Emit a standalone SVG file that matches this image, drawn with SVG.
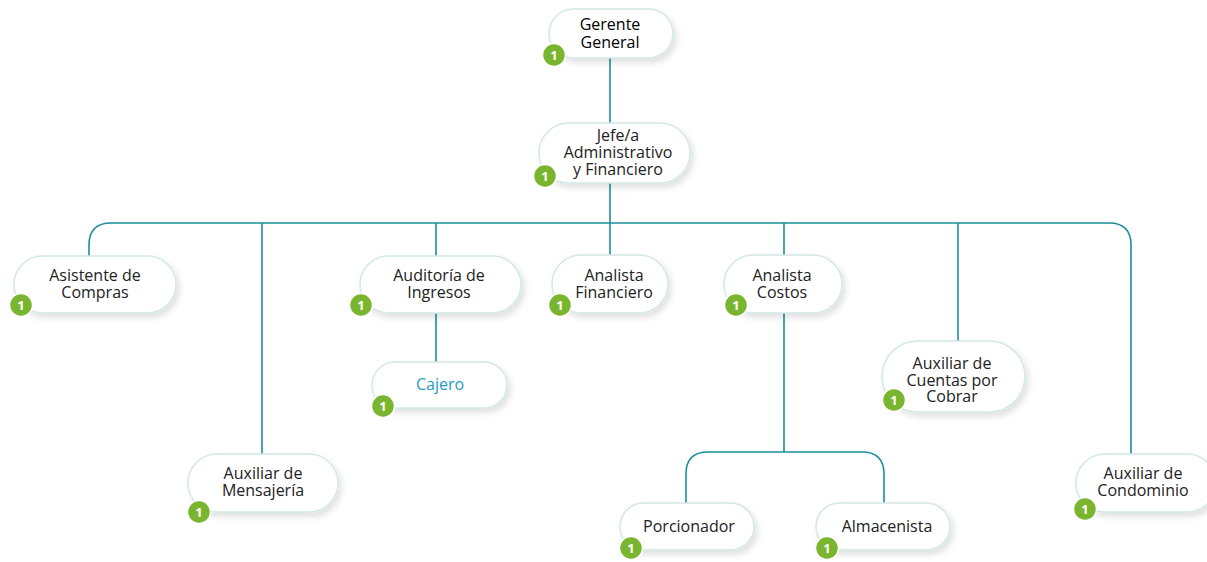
<svg xmlns="http://www.w3.org/2000/svg" width="1207" height="562" viewBox="0 0 1207 562">
<defs>
<filter id="sh" x="-20%" y="-30%" width="150%" height="170%">
<feDropShadow dx="3" dy="4" stdDeviation="3" flood-color="#000" flood-opacity="0.12"/>
</filter>
<style>
.box{fill:#fff;stroke:#d2e9e4;stroke-width:1.5;filter:url(#sh)}
.t{font-family:"Open Sans","Liberation Sans",sans-serif;font-size:16px;fill:#222;text-anchor:middle}
.c{stroke:#1b8f9c;stroke-width:1.6;fill:none}
.b{fill:#7ab52f;stroke:#fff;stroke-width:1.5}
.bt{font-family:"Open Sans","Liberation Sans",sans-serif;font-size:13px;font-weight:bold;fill:#fff;text-anchor:middle}
</style>
</defs>
<rect width="1207" height="562" fill="#fff"/>
<g id="connectors">
<path class="c" d="M610 58V123"/>
<path class="c" d="M610 183V223"/>
<path class="c" d="M89 256V245Q89 223 111 223H1109Q1131 223 1131 245V455"/>
<path class="c" d="M262 223V455"/>
<path class="c" d="M436 223V256"/>
<path class="c" d="M610 223V256"/>
<path class="c" d="M784 223V256"/>
<path class="c" d="M958 223V343"/>
<path class="c" d="M436 313V362"/>
<path class="c" d="M784 313V452"/>
<path class="c" d="M686 503V474Q686 452 708 452H862Q884 452 884 474V503"/>
</g>
<g id="n-gerente">
<rect class="box" x="549" y="9" width="124" height="49" rx="24.5"/>
<text class="t" style="font-weight:500;fill:#000"><tspan x="610" y="30">Gerente</tspan><tspan x="610" y="48">General</tspan></text>
<circle class="b" cx="554" cy="55" r="11.5"/><text class="bt" x="554" y="59.5">1</text>
</g>
<g id="n-jefe">
<rect class="box" x="539" y="123" width="151" height="60" rx="30"/>
<text class="t"><tspan x="618" y="141">Jefe/a</tspan><tspan x="618" y="158">Administrativo</tspan><tspan x="618" y="175">y Financiero</tspan></text>
<circle class="b" cx="545" cy="176" r="11.5"/><text class="bt" x="545" y="180.5">1</text>
</g>
<g id="n-asistente">
<rect class="box" x="14" y="256" width="162" height="57" rx="28.5"/>
<text class="t"><tspan x="95" y="281">Asistente de</tspan><tspan x="95" y="298">Compras</tspan></text>
<circle class="b" cx="21" cy="305" r="11.5"/><text class="bt" x="21" y="309.5">1</text>
</g>
<g id="n-mensajeria">
<rect class="box" x="188" y="454" width="150" height="58" rx="29"/>
<text class="t"><tspan x="263" y="479">Auxiliar de</tspan><tspan x="263" y="496">Mensajería</tspan></text>
<circle class="b" cx="199" cy="512" r="11.5"/><text class="bt" x="199" y="516.5">1</text>
</g>
<g id="n-auditoria">
<rect class="box" x="360" y="256" width="161" height="57" rx="28.5"/>
<text class="t"><tspan x="439" y="281">Auditoría de</tspan><tspan x="439" y="298">Ingresos</tspan></text>
<circle class="b" cx="361" cy="305" r="11.5"/><text class="bt" x="361" y="309.5">1</text>
</g>
<g id="n-cajero">
<rect class="box" x="372" y="362" width="135" height="46" rx="23"/>
<text class="t" x="440" y="390" style="fill:#1e9cc4">Cajero</text>
<circle class="b" cx="383" cy="406" r="11.5"/><text class="bt" x="383" y="410.5">1</text>
</g>
<g id="n-financiero">
<rect class="box" x="552" y="255" width="116" height="58" rx="29"/>
<text class="t"><tspan x="614" y="281">Analista</tspan><tspan x="614" y="298">Financiero</tspan></text>
<circle class="b" cx="560" cy="305" r="11.5"/><text class="bt" x="560" y="309.5">1</text>
</g>
<g id="n-costos">
<rect class="box" x="724" y="255" width="118" height="58" rx="29"/>
<text class="t"><tspan x="782" y="281">Analista</tspan><tspan x="782" y="298">Costos</tspan></text>
<circle class="b" cx="736" cy="305" r="11.5"/><text class="bt" x="736" y="309.5">1</text>
</g>
<g id="n-porcionador">
<rect class="box" x="620" y="503" width="134" height="47" rx="23.5"/>
<text class="t" x="689" y="532">Porcionador</text>
<circle class="b" cx="631" cy="548" r="11.5"/><text class="bt" x="631" y="552.5">1</text>
</g>
<g id="n-almacenista">
<rect class="box" x="816" y="503" width="134" height="47" rx="23.5"/>
<text class="t" x="887" y="532">Almacenista</text>
<circle class="b" cx="827" cy="548" r="11.5"/><text class="bt" x="827" y="552.5">1</text>
</g>
<g id="n-cuentas">
<rect class="box" x="882" y="341" width="143" height="71" rx="35.5"/>
<text class="t"><tspan x="952" y="369">Auxiliar de</tspan><tspan x="952" y="386">Cuentas por</tspan><tspan x="952" y="402">Cobrar</tspan></text>
<circle class="b" cx="894" cy="400" r="11.5"/><text class="bt" x="894" y="404.5">1</text>
</g>
<g id="n-condominio">
<rect class="box" x="1076" y="454" width="140" height="58" rx="29"/>
<text class="t"><tspan x="1143" y="479">Auxiliar de</tspan><tspan x="1143" y="496">Condominio</tspan></text>
<circle class="b" cx="1085" cy="509" r="11.5"/><text class="bt" x="1085" y="513.5">1</text>
</g>
</svg>
